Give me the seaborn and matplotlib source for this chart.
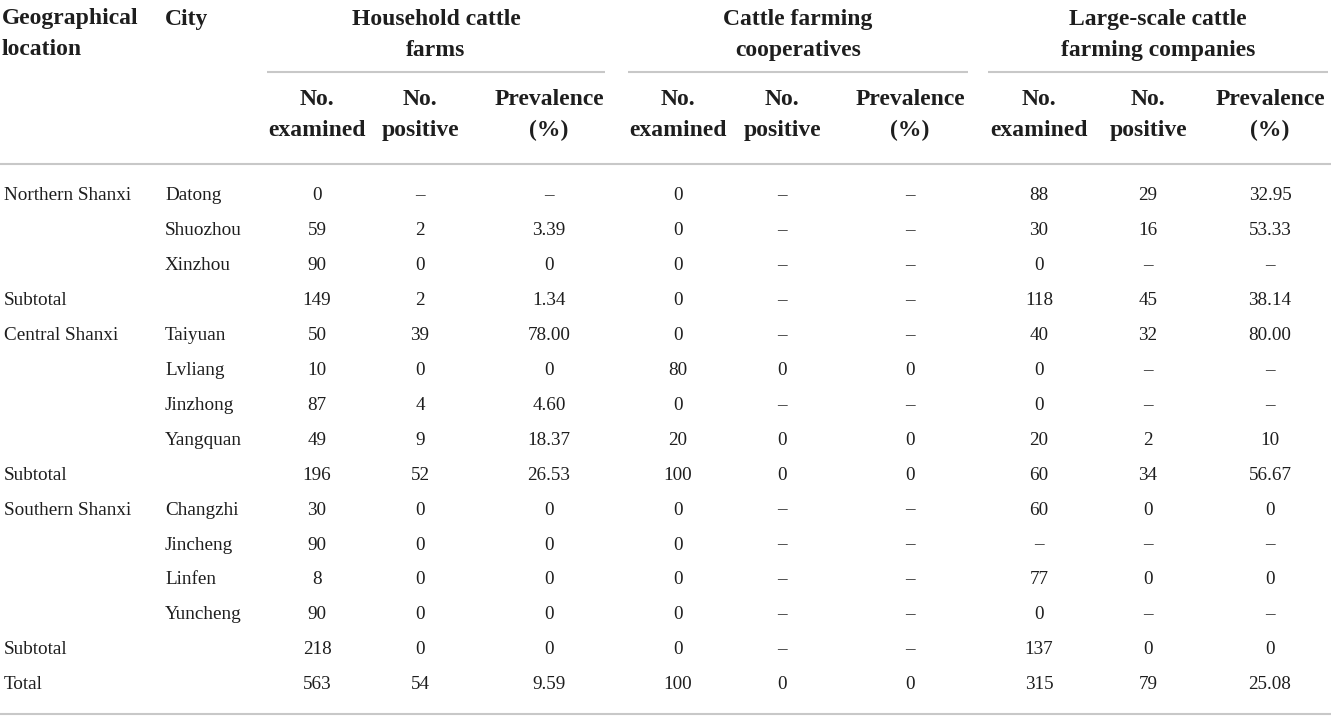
import matplotlib
matplotlib.use("Agg")
import matplotlib.pyplot as plt
import seaborn as sns

# Table content
geo = ["Northern Shanxi", "", "", "Subtotal", "Central Shanxi", "", "", "",
       "Subtotal", "Southern Shanxi", "", "", "", "Subtotal", "Total"]
city = ["Datong", "Shuozhou", "Xinzhou", "", "Taiyuan", "Lvliang", "Jinzhong",
        "Yangquan", "", "Changzhi", "Jincheng", "Linfen", "Yuncheng", "", ""]
house_exam = ["0", "59", "90", "149", "50", "10", "87", "49", "196", "30", "90", "8", "90", "218", "563"]
house_pos = ["–", "2", "0", "2", "39", "0", "4", "9", "52", "0", "0", "0", "0", "0", "54"]
house_prev = ["–", "3.39", "0", "1.34", "78.00", "0", "4.60", "18.37", "26.53", "0", "0", "0", "0", "0", "9.59"]
coop_exam = ["0", "0", "0", "0", "0", "80", "0", "20", "100", "0", "0", "0", "0", "0", "100"]
coop_pos = ["–", "–", "–", "–", "–", "0", "–", "0", "0", "–", "–", "–", "–", "–", "0"]
coop_prev = ["–", "–", "–", "–", "–", "0", "–", "0", "0", "–", "–", "–", "–", "–", "0"]
large_exam = ["88", "30", "0", "118", "40", "0", "0", "20", "60", "60", "–", "77", "0", "137", "315"]
large_pos = ["29", "16", "–", "45", "32", "–", "–", "2", "34", "0", "–", "0", "–", "0", "79"]
large_prev = ["32.95", "53.33", "–", "38.14", "80.00", "–", "–", "10", "56.67", "0", "–", "0", "–", "0", "25.08"]

groups = ["Household cattle\nfarms", "Cattle farming\ncooperatives", "Large-scale cattle\nfarming companies"]
subheads = ["No.\nexamined", "No.\npositive", "Prevalence\n(%)"]

sns.set_theme(style="white")
plt.rcParams["font.family"] = ["Liberation Serif", "DejaVu Serif"]

ink = "#1e1e1e"
rule = "#c8c8c8"

fig = plt.figure(figsize=(13.31, 7.18), dpi=100)
ax = fig.add_axes([0, 0, 1, 1])
ax.set_xlim(0, 1331)
ax.set_ylim(718, 0)
ax.axis("off")

# column layout
col_x = [317, 420, 549, 678, 782, 910, 1039, 1148, 1270]
group_span = [(267, 605), (628, 968), (988, 1328)]
row_y0, row_dy = 196, 34.9

hsize, dsize = 17, 13.8
ls = 1.6

# header
ax.text(2, 34, "Geographical\nlocation", ha="left", va="center", fontsize=hsize,
        fontweight="bold", color=ink, linespacing=ls)
ax.text(165, 20, "City", ha="left", va="center", fontsize=hsize,
        fontweight="bold", color=ink)
for (x0, x1), g in zip(group_span, groups):
    ax.text((x0 + x1) / 2, 35, g, ha="center", va="center", fontsize=hsize,
            fontweight="bold", color=ink, linespacing=ls)
    ax.plot([x0, x1], [72, 72], color=rule, lw=1.5, solid_capstyle="butt")
for i, x in enumerate(col_x):
    ax.text(x, 115, subheads[i % 3], ha="center", va="center", fontsize=hsize,
            fontweight="bold", color=ink, linespacing=ls)

ax.plot([0, 1331], [164, 164], color=rule, lw=1.5)
ax.plot([0, 1331], [714, 714], color=rule, lw=1.5)

# body
columns = [house_exam, house_pos, house_prev, coop_exam, coop_pos, coop_prev,
           large_exam, large_pos, large_prev]
for r in range(len(geo)):
    y = row_y0 + r * row_dy
    ax.text(4, y, geo[r], ha="left", va="center", fontsize=dsize, color=ink)
    ax.text(165, y, city[r], ha="left", va="center", fontsize=dsize, color=ink)
    for x, col in zip(col_x, columns):
        ax.text(x, y, col[r], ha="center", va="center", fontsize=dsize, color=ink)

fig.savefig("out.png", dpi=100, facecolor="white")
